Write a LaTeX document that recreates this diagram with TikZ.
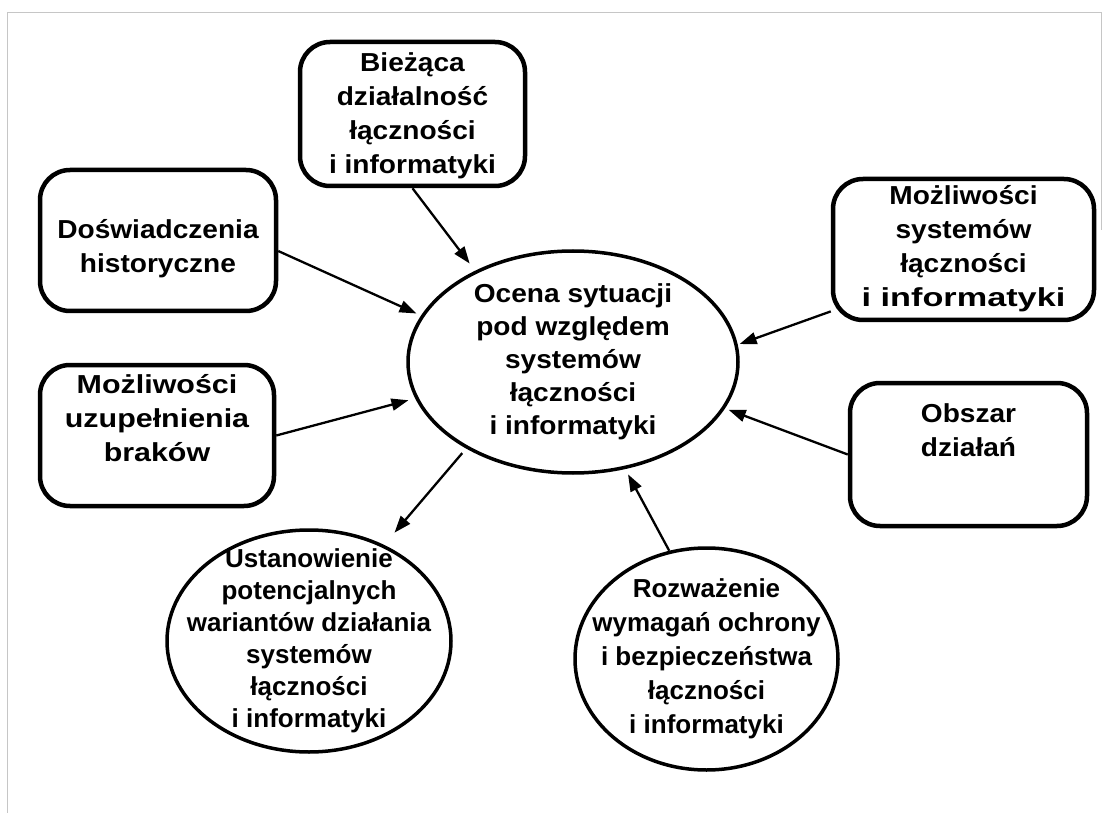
\documentclass[tikz,border=0pt]{standalone}
\usepackage{fontspec}
\usepackage{graphicx}
\newfontfamily\diagfont[FakeStretch=1.08]{Liberation Sans}
\newfontfamily\widefont[FakeStretch=1.17]{Liberation Sans}
\newfontfamily\narrowfont[FakeStretch=1.0]{Liberation Sans}
\usetikzlibrary{shapes.geometric,arrows.meta}

\tikzset{
  txt/.style={font={\diagfont\bfseries\fontsize{26}{34}\selectfont}, align=center, inner sep=0pt},
  widetxt/.style={txt, font={\widefont\bfseries\fontsize{26}{34}\selectfont}},
  ovaltxt/.style={txt, font={\diagfont\bfseries\fontsize{26}{33}\selectfont}},
  narrowtxt/.style={txt, font={\narrowfont\bfseries\fontsize{26}{32}\selectfont}},
  box/.style={draw, line width=4.5pt, rounded corners=30pt, inner sep=0pt, rectangle},
  oval/.style={draw, ellipse, line width=3.5pt, inner sep=0pt},
  arr/.style={-{Triangle[length=17pt,width=12pt]}, line width=2.3pt},
  frameline/.style={gray!45, line width=1pt}
}

\begin{document}
\begin{tikzpicture}[x=1pt,y=-1pt]
\useasboundingbox (0,0) rectangle (1104,813);
\fill[white] (0,0) rectangle (1104,813);

% faint outer frame
\draw[frameline] (7,813) -- (7,13) -- (1101,13) -- (1101,230);

% source boxes
\node[box, minimum width=225pt, minimum height=144pt,
      label={[txt,yshift=-2pt]center:{Bieżąca\\działalność\\łączności\\i informatyki}}]
  (bie) at (412.5,114) {};
\node[box, minimum width=236pt, minimum height=141pt,
      label={[txt,yshift=-8pt]center:{Doświadczenia\\historyczne}}]
  (dos) at (158,240.5) {};
\node[box, minimum width=234pt, minimum height=141pt,
      label={[widetxt,yshift=17pt]center:{Możliwości\\uzupełnienia\\braków}}]
  (uzu) at (157,435.5) {};
\node[box, minimum width=261pt, minimum height=141pt,
      label={[txt,yshift=1pt]center:{Możliwości\\systemów\\łączności\\\scalebox{1.22}[1]{i informatyki}}}]
  (mozr) at (963.5,249.5) {};
\node[box, minimum width=237pt, minimum height=143pt,
      label={[txt,yshift=24pt]center:{Obszar\\działań}}]
  (obs) at (968.5,454.5) {};

% central assessment and its results
\node[oval, minimum width=330pt, minimum height=222pt,
      label={[ovaltxt]center:{Ocena sytuacji\\pod względem\\systemów\\łączności\\i informatyki}}]
  (ctr) at (573,362) {};
\node[oval, minimum width=284pt, minimum height=222pt,
      label={[narrowtxt]center:{Ustanowienie\\potencjalnych\\wariantów działania\\systemów\\łączności\\i informatyki}}]
  (ust) at (309,641) {};
\node[oval, minimum width=263pt, minimum height=222pt,
      label={[narrowtxt,font={\narrowfont\bfseries\fontsize{26}{34}\selectfont}]center:{Rozważenie\\wymagań ochrony\\i bezpieczeństwa\\łączności\\i informatyki}}]
  (roz) at (706.5,659) {};

% connectors
\draw[arr, shorten >=9pt] (bie.south) -- (ctr.137);
\draw[arr, shorten >=5pt] (dos.-5) -- (ctr.163);
\draw[arr, shorten >=7pt] (uzu.east) -- (ctr.193);
\draw[arr, shorten <=6pt, shorten >=16pt] (ctr.219) -- (ust.52);
\draw[arr, shorten >=6pt] (roz.109) -- (ctr.-64);
\draw[arr, shorten >=4pt] (obs.west) -- (ctr.-17);
\draw[arr, shorten >=2pt] (mozr.205) -- (ctr.6);
\end{tikzpicture}
\end{document}
